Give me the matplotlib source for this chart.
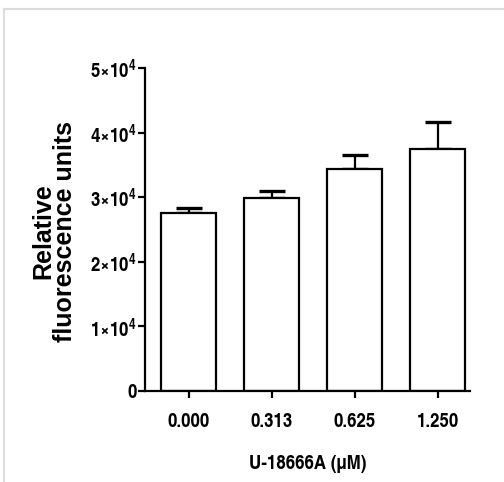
import matplotlib
matplotlib.use("Agg")
import matplotlib.pyplot as plt
from matplotlib.lines import Line2D
from matplotlib import font_manager
from matplotlib.font_manager import FontProperties
from matplotlib.textpath import TextPath

categories = ["0.000", "0.313", "0.625", "1.250"]
values = [27500, 29900, 34400, 37500]
errors = [800, 1100, 2100, 4200]
yticks = [0, 10000, 20000, 30000, 40000, 50000]
ytick_labels = ["0", r"$\mathbf{1×10^{4}}$", r"$\mathbf{2×10^{4}}$", r"$\mathbf{3×10^{4}}$",
                r"$\mathbf{4×10^{4}}$", r"$\mathbf{5×10^{4}}$"]
xlabel = "U-18666A (µM)"
ylabel = "Relative\nfluorescence units"

names = {f.name for f in font_manager.fontManager.ttflist}
base = "Liberation Sans" if "Liberation Sans" in names else "DejaVu Sans"

# choose the bold sans face whose proportions best match the reference digits
target = 2.75
best = None
for f in font_manager.fontManager.ttflist:
    if f.weight not in ("bold", 700) or f.style != "normal":
        continue
    if any(k in f.name for k in ("Mono", "Serif", "CJK", "Math", "Display")):
        continue
    if not f.fname.lower().endswith((".ttf", ".otf")):
        continue
    try:
        fp = FontProperties(fname=f.fname)
        w = TextPath((0, 0), "0.000", prop=fp, size=100).get_extents().width
        h = TextPath((0, 0), "0", prop=fp, size=100).get_extents().height
    except Exception:
        continue
    score = abs(w / h - target)
    if best is None or score < best[0]:
        best = (score, f.name, f.stretch, h)

if best is not None:
    tfam, tstretch, h100 = best[1], best[2], best[3]
else:
    tfam, tstretch, h100 = base, "normal", 72.0
tick_fs = 15.0 * 72 / h100  # digit height ~15 px

plt.rcParams["font.family"] = [tfam, base, "DejaVu Sans"]
plt.rcParams["font.weight"] = "bold"
plt.rcParams["font.stretch"] = tstretch
plt.rcParams["mathtext.fontset"] = "custom"
pat = f"{tfam}:bold:stretch={tstretch}"
plt.rcParams["mathtext.rm"] = pat
plt.rcParams["mathtext.bf"] = pat
plt.rcParams["mathtext.it"] = pat

fig = plt.figure(figsize=(5.04, 4.82), dpi=100)
ax = fig.add_axes([145/504, 1-391/482, (470-145)/504, (391-68)/482])

x = list(range(len(categories)))
ax.bar(x, values, width=0.66, color="white", edgecolor="black", linewidth=1.6, zorder=2)
ax.errorbar(x, values, yerr=[[0]*len(errors), errors], fmt="none", ecolor="black",
            elinewidth=1.6, capsize=9.5, capthick=2.4, zorder=1)

ax.set_xlim(-0.524, 3.39)
ax.set_ylim(0, 50000)
ax.set_yticks(yticks)
ax.set_yticklabels(ytick_labels, fontsize=tick_fs, fontweight="bold")
ax.set_xticks(x)
ax.set_xticklabels(categories, fontsize=tick_fs, fontweight="bold")
for s in ["top", "right"]:
    ax.spines[s].set_visible(False)
for s in ["left", "bottom"]:
    ax.spines[s].set_linewidth(1.6)
ax.tick_params(axis="y", length=5, width=1.6, pad=1)
ax.tick_params(axis="x", length=5, width=1.6, pad=11)
ax.set_xlabel(xlabel, fontsize=tick_fs, fontweight="bold", labelpad=17)
ax.set_ylabel(ylabel, fontsize=18, fontweight="bold", family=[base, "DejaVu Sans"],
              stretch="normal", linespacing=0.88)
ax.yaxis.set_label_coords(-0.21, 0.495)

fig.add_artist(Line2D([4/504, 4/504], [0, 1-9/482], transform=fig.transFigure, color="#dcdcdc", lw=1.5))
fig.add_artist(Line2D([4/504, 1], [1-9/482, 1-9/482], transform=fig.transFigure, color="#dcdcdc", lw=1.5))

fig.savefig("out.png", dpi=100)
